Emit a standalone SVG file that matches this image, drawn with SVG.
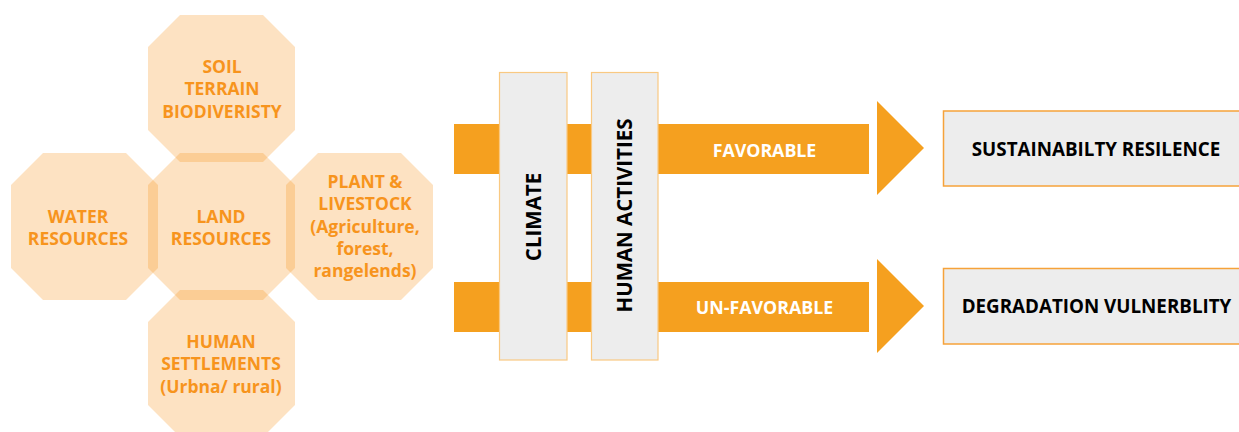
<svg xmlns="http://www.w3.org/2000/svg" width="1239" height="432" viewBox="0 0 1239 432">
<defs>
<style>
.oct{fill:#F7941D;fill-opacity:0.27;}
.ot{font-family:"Open Sans","Liberation Sans",sans-serif;font-weight:700;font-size:17.5px;fill:#F7941D;text-anchor:middle;}
.bar{fill:#F5A01F;}
.gbox{fill:#EDEDED;stroke:#F9C982;stroke-width:1.2;}
.rbox{fill:#EDEDED;stroke:#F6A23A;stroke-width:1.5;}
.vt{font-family:"Open Sans","Liberation Sans",sans-serif;font-weight:700;font-size:20.5px;fill:#000;text-anchor:middle;}
.wt{font-family:"Open Sans","Liberation Sans",sans-serif;font-weight:700;font-size:17.8px;fill:#fff;text-anchor:middle;}
.bt{font-family:"Open Sans","Liberation Sans",sans-serif;font-weight:700;font-size:18.8px;fill:#000;text-anchor:middle;}
</style>
</defs>
<g id="top-node">
<path class="oct" d="M180,15 L263,15 L295,47 L295,130 L263,162 L180,162 L148,130 L148,47 Z"/>
<text class="ot" x="222" y="73">SOIL</text>
<text class="ot" x="222" y="95">TERRAIN</text>
<text class="ot" x="222" y="118">BIODIVERISTY</text>
</g>
<g id="water-node">
<path class="oct" d="M43,153 L126,153 L158,185 L158,268 L126,300 L43,300 L11,268 L11,185 Z"/>
<text class="ot" x="78" y="223">WATER</text>
<text class="ot" x="78" y="245">RESOURCES</text>
</g>
<g id="land-node">
<path class="oct" d="M180,153 L263,153 L295,185 L295,268 L263,300 L180,300 L148,268 L148,185 Z"/>
<text class="ot" x="221" y="223">LAND</text>
<text class="ot" x="221" y="245">RESOURCES</text>
</g>
<g id="plant-node">
<path class="oct" d="M318,153 L401,153 L433,185 L433,268 L401,300 L318,300 L286,268 L286,185 Z"/>
<text class="ot" x="365" y="188">PLANT &amp;</text>
<text class="ot" x="365" y="210">LIVESTOCK</text>
<text class="ot" x="365" y="233">(Agriculture,</text>
<text class="ot" x="365" y="255">forest,</text>
<text class="ot" x="365" y="277">rangelends)</text>
</g>
<g id="human-node">
<path class="oct" d="M180,290 L263,290 L295,322 L295,405 L263,437 L180,437 L148,405 L148,322 Z"/>
<text class="ot" x="221" y="348">HUMAN</text>
<text class="ot" x="221" y="370">SETTLEMENTS</text>
<text class="ot" x="221" y="393">(Urbna/ rural)</text>
</g>
<g id="connectors">
<rect class="bar" x="454" y="124" width="415" height="50"/>
<polygon class="bar" points="877,101 924,148 877,195"/>
<rect class="bar" x="454" y="282" width="415" height="50"/>
<polygon class="bar" points="877,259 924,306 877,353"/>
</g>
<g id="climate-node">
<rect class="gbox" x="499.5" y="72.5" width="67.5" height="287.5"/>
<text class="vt" transform="translate(541,217) rotate(-90)">CLIMATE</text>
</g>
<g id="human-activities-node">
<rect class="gbox" x="591.5" y="72.5" width="66.5" height="287.5"/>
<text class="vt" transform="translate(632,215.5) rotate(-90)">HUMAN ACTIVITIES</text>
</g>
<g id="favorable-label">
<text class="wt" x="764.5" y="157">FAVORABLE</text>
</g>
<g id="unfavorable-label">
<text class="wt" x="764.5" y="314">UN-FAVORABLE</text>
</g>
<g id="sustainability-node">
<rect class="rbox" x="943.5" y="111" width="300" height="75"/>
<text class="bt" x="1096" y="156">SUSTAINABILTY RESILENCE</text>
</g>
<g id="degradation-node">
<rect class="rbox" x="943.5" y="268.5" width="300" height="75.5"/>
<text class="bt" x="1096.5" y="313">DEGRADATION VULNERBLITY</text>
</g>
</svg>
